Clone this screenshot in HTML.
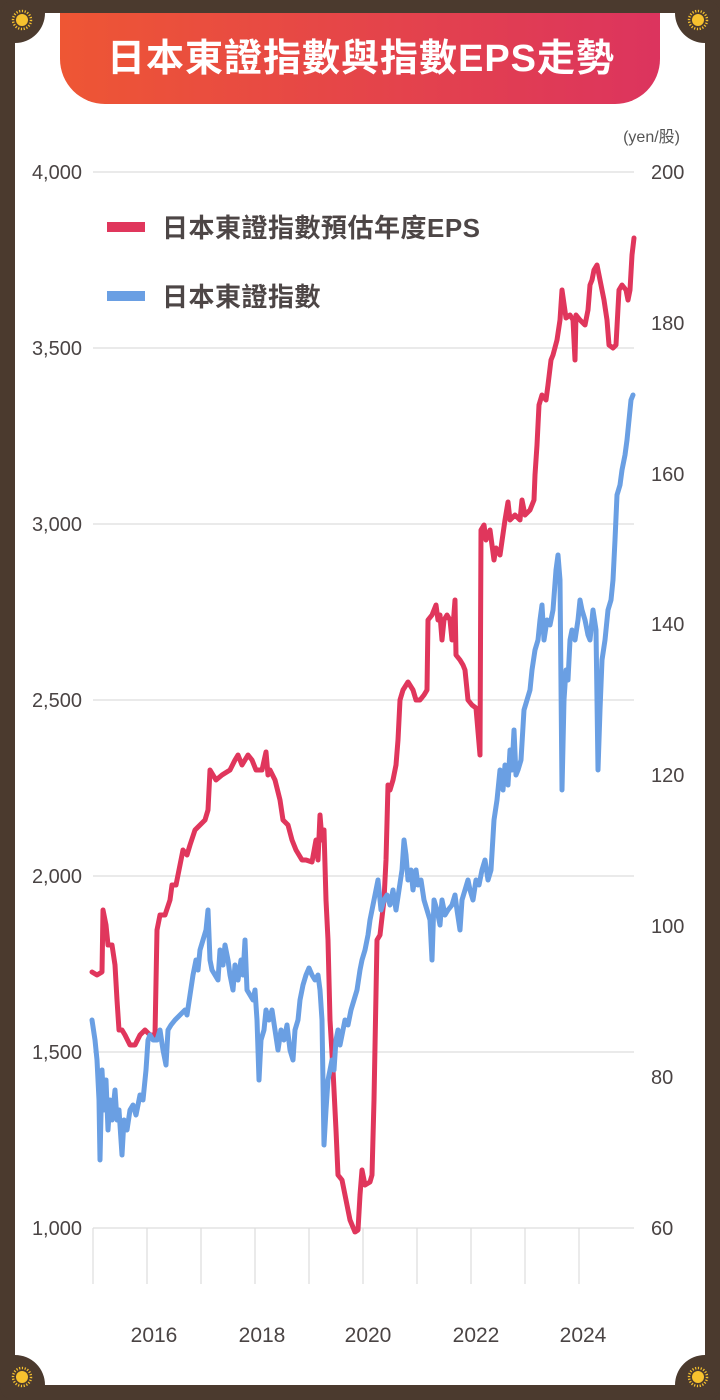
<!DOCTYPE html>
<html><head><meta charset="utf-8"><style>
html,body{margin:0;padding:0;width:720px;height:1400px;overflow:hidden;background:#4b3a2e}
svg{display:block}
</style></head><body>
<svg width="720" height="1400" xmlns="http://www.w3.org/2000/svg" font-family="'Liberation Sans','Noto Sans CJK TC',sans-serif">
<defs>
<linearGradient id="g" x1="0" x2="1" y1="0" y2="0"><stop offset="0" stop-color="#ee5634"/><stop offset="1" stop-color="#dc345e"/></linearGradient>
<g id="sun"><circle r="6" fill="#f7c22e"/><circle r="9" fill="none" stroke="#f7c22e" stroke-width="2.5" stroke-dasharray="1.2 1.6"/></g>
</defs>
<rect width="720" height="1400" rx="14" fill="#4b3a2e"/>
<path d="M45,13 H675 A30,30 0 0 0 705,43 V1355 A30,30 0 0 0 675,1385 H45 A30,30 0 0 0 15,1355 V43 A30,30 0 0 0 45,13 Z" fill="#fff"/>
<use href="#sun" x="22" y="20"/><use href="#sun" x="698" y="20"/><use href="#sun" x="22" y="1377"/><use href="#sun" x="698" y="1377"/>
<path d="M60,13 H660 V59 A45,45 0 0 1 615,104 H105 A45,45 0 0 1 60,59 Z" fill="url(#g)"/>
<text x="361" y="71" text-anchor="middle" font-size="38" font-weight="bold" fill="#fff" letter-spacing="1">日本東證指數與指數EPS走勢</text>
<text x="680" y="142" text-anchor="end" font-size="16" fill="#555">(yen/股)</text>
<g stroke="#ddd" stroke-width="1.2">
<line x1="93" x2="634" y1="172" y2="172"/><line x1="93" x2="634" y1="348" y2="348"/><line x1="93" x2="634" y1="524" y2="524"/><line x1="93" x2="634" y1="700" y2="700"/><line x1="93" x2="634" y1="876" y2="876"/><line x1="93" x2="634" y1="1052" y2="1052"/><line x1="93" x2="634" y1="1228" y2="1228"/>
<line x1="93" x2="93" y1="1228" y2="1284"/><line x1="147" x2="147" y1="1228" y2="1284"/><line x1="201" x2="201" y1="1228" y2="1284"/><line x1="255" x2="255" y1="1228" y2="1284"/><line x1="309" x2="309" y1="1228" y2="1284"/><line x1="363" x2="363" y1="1228" y2="1284"/><line x1="417" x2="417" y1="1228" y2="1284"/><line x1="471" x2="471" y1="1228" y2="1284"/><line x1="525" x2="525" y1="1228" y2="1284"/><line x1="579" x2="579" y1="1228" y2="1284"/>
</g>
<g font-size="20" fill="#4a4444" text-anchor="end">
<text x="82" y="179">4,000</text><text x="82" y="355">3,500</text><text x="82" y="531">3,000</text><text x="82" y="707">2,500</text><text x="82" y="883">2,000</text><text x="82" y="1059">1,500</text><text x="82" y="1235">1,000</text>
</g>
<g font-size="20" fill="#4a4444">
<text x="651" y="179">200</text><text x="651" y="330">180</text><text x="651" y="481">160</text><text x="651" y="631">140</text><text x="651" y="782">120</text><text x="651" y="933">100</text><text x="651" y="1084">80</text><text x="651" y="1235">60</text>
</g>
<g font-size="21" fill="#4a4444" text-anchor="middle">
<text x="154" y="1342">2016</text><text x="262" y="1342">2018</text><text x="368" y="1342">2020</text><text x="476" y="1342">2022</text><text x="583" y="1342">2024</text>
</g>
<rect x="107" y="222" width="38" height="10" fill="#e0365c"/>
<text x="162" y="237" font-size="26" font-weight="bold" fill="#4d4646" letter-spacing="0.5">日本東證指數預估年度EPS</text>
<rect x="107" y="291" width="38" height="10" fill="#6a9fe3"/>
<text x="162" y="306" font-size="26" font-weight="bold" fill="#4d4646" letter-spacing="0.5">日本東證指數</text>
<polyline fill="none" stroke="#e0365c" stroke-width="5" stroke-linejoin="round" stroke-linecap="round" points="92,972 97,975 102,972 103,910 106,925 108,945 112,945 115,965 117,1000 119,1030 122,1030 125,1035 130,1045 135,1045 140,1035 145,1030 150,1035 155,1035 157,930 160,915 165,915 170,900 172,885 176,885 180,865 183,850 187,855 190,845 195,830 200,825 205,820 208,810 210,770 213,775 216,780 222,775 230,770 235,760 238,755 242,765 248,755 252,760 256,770 262,770 266,752 268,775 270,770 275,780 280,800 283,820 288,825 292,840 296,850 302,860 306,860 312,862 316,840 318,860 320,815 322,840 324,830 326,900 328,940 330,1020 333,1070 336,1130 338,1175 342,1180 346,1200 350,1220 355,1232 358,1230 360,1195 362,1170 365,1185 370,1182 372,1175 374,1100 377,940 380,935 384,900 386,860 388,785 390,790 393,780 396,765 398,740 400,700 403,690 408,682 413,690 416,700 420,700 424,695 427,690 428,620 432,615 436,605 438,620 440,615 442,640 444,620 447,615 450,620 452,640 455,600 456,655 460,660 463,665 465,670 468,700 472,705 476,708 480,755 481,530 484,525 486,540 490,530 492,545 494,560 496,548 500,555 505,520 508,502 510,520 515,515 520,520 522,500 525,515 530,510 534,500 535,475 537,445 539,405 542,395 546,400 548,385 551,360 553,355 557,340 560,320 562,290 566,318 570,315 573,320 575,360 576,315 580,320 585,325 588,310 590,285 592,280 594,270 597,265 600,280 604,300 607,320 609,345 613,348 616,345 619,290 622,285 626,290 628,300 630,290 632,255 634,238"/>
<polyline fill="none" stroke="#6a9fe3" stroke-width="5" stroke-linejoin="round" stroke-linecap="round" points="92,1020 95,1040 97,1060 99,1100 100,1160 102,1070 104,1110 106,1080 108,1130 110,1100 112,1120 115,1090 117,1120 119,1110 122,1155 124,1120 127,1130 130,1110 133,1105 136,1115 140,1095 143,1100 146,1070 148,1040 150,1035 153,1040 157,1040 160,1030 163,1050 166,1065 168,1030 171,1025 175,1020 180,1015 185,1010 187,1015 190,995 193,975 196,960 198,970 200,950 203,940 206,930 208,910 210,960 212,970 215,975 218,980 220,950 223,965 225,945 228,960 230,975 233,990 235,965 238,980 241,960 243,975 245,940 247,990 250,995 253,1000 255,990 257,1020 259,1080 261,1040 264,1030 266,1010 269,1020 272,1010 275,1030 278,1050 281,1030 284,1040 287,1025 290,1050 293,1060 295,1030 298,1020 300,1000 303,985 306,975 309,968 312,975 315,980 318,975 320,990 322,1020 324,1145 326,1110 328,1080 330,1070 332,1060 334,1070 336,1040 338,1030 340,1045 342,1035 345,1020 348,1025 351,1010 354,1000 357,990 360,970 362,960 365,950 368,935 370,920 373,905 376,890 378,880 381,910 384,900 387,895 390,905 393,890 396,910 399,890 402,870 404,840 406,855 408,880 411,870 413,890 416,870 418,885 421,880 424,900 427,910 430,920 432,960 434,900 437,910 440,925 442,900 445,915 448,910 452,905 455,895 457,910 460,930 462,900 465,890 468,880 470,890 473,900 476,880 479,885 482,870 485,860 488,880 491,870 494,820 497,800 500,770 503,790 505,765 508,785 510,750 512,770 514,730 516,775 518,770 521,760 524,710 527,700 530,690 532,670 535,650 538,640 540,620 542,605 544,640 547,620 550,625 553,610 556,570 558,555 560,580 562,790 564,700 566,670 568,680 570,640 572,630 575,640 578,620 580,600 582,610 585,620 588,635 590,640 593,610 596,630 598,770 600,710 602,660 605,640 608,610 611,600 613,580 615,540 617,495 620,485 622,470 625,455 627,440 629,420 631,400 633,395"/>
</svg>
</body></html>
